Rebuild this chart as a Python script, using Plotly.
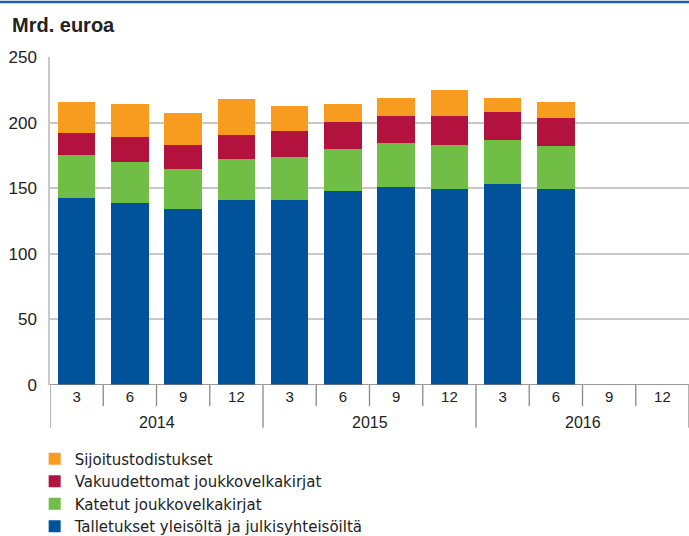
import plotly.graph_objects as go

months = ["3", "6", "9", "12", "3", "6", "9", "12", "3", "6", "9", "12"]
years = ["2014", "2015", "2016"]
talletukset = [142.8, 139.0, 133.9, 141.0, 141.0, 147.9, 150.9, 149.1, 153.2, 149.1, None, None]
katetut = [32.2, 30.7, 31.0, 31.0, 33.0, 32.2, 33.3, 34.1, 33.5, 33.3, None, None]
vakuudettomat = [16.8, 19.3, 17.8, 18.8, 19.8, 20.4, 20.6, 21.6, 21.1, 21.3, None, None]
sijoitus = [24.2, 24.9, 24.8, 27.2, 19.1, 13.4, 14.2, 20.3, 11.0, 12.3, None, None]
y_ticks = [0, 50, 100, 150, 200, 250]

names = ["Talletukset yleisöltä ja julkisyhteisöiltä", "Katetut joukkovelkakirjat",
         "Vakuudettomat joukkovelkakirjat", "Sijoitustodistukset"]
colors = ["#00529b", "#70be45", "#b3123f", "#f79c1f"]
series = [talletukset, katetut, vakuudettomat, sijoitus]

x = list(range(len(months)))
fig = go.Figure()
for nm, col, vals in zip(names, colors, series):
    fig.add_trace(go.Bar(x=x, y=vals, name=nm, marker=dict(color=col, line=dict(width=0))))

FONT = "Liberation Sans, Arial, sans-serif"
fig.update_layout(
    width=689, height=536,
    margin=dict(l=50, r=0, t=57, b=151, autoexpand=False),
    barmode="stack", bargap=0.30,
    plot_bgcolor="white", paper_bgcolor="white",
    font=dict(family=FONT, color="#222"),
    showlegend=True,
    legend=dict(x=-0.024, y=-0.175, xanchor="left", yanchor="top", traceorder="reversed",
                font=dict(size=15, family="DejaVu Sans, sans-serif", color="#222"), itemwidth=30,
                tracegroupgap=0, bgcolor="rgba(0,0,0,0)"),
    xaxis=dict(range=[-0.5, len(months) - 0.5], tickvals=x, ticktext=months, ticks="",
               showgrid=False, zeroline=False, showline=False, automargin=False,
               tickfont=dict(size=15, family=FONT, color="#222"), ticklabelstandoff=1),
    yaxis=dict(range=[0, 250], tickvals=y_ticks, showgrid=True, gridcolor="#c8c8c8", gridwidth=1.5,
               zeroline=False, showline=True, linecolor="#c8c8c8", linewidth=1.5, automargin=False,
               tickfont=dict(size=17, family=FONT, color="#222"), ticks="", ticklabelstandoff=8),
)

shapes = []
# baseline
shapes.append(dict(type="line", xref="paper", yref="y", x0=0, x1=1, y0=0, y1=0,
                   line=dict(color="#7a7a7a", width=1.5)))
# month separators and year separators
for i in range(len(months) + 1):
    is_year = (i % 4 == 0)
    shapes.append(dict(type="line", xref="x", yref="paper", x0=i - 0.5, x1=i - 0.5,
                       y0=0, y1=-0.13 if is_year else -0.064,
                       line=dict(color="#8a8a8a", width=1.3)))
# top blue rule
shapes.append(dict(type="line", xref="paper", yref="paper", x0=-0.08, x1=1.0, y0=1.1675, y1=1.1675,
                   line=dict(color="#1f5fa8", width=2.5)))
fig.update_layout(shapes=shapes)

annotations = []
for k, yr in enumerate(years):
    annotations.append(dict(text=yr, xref="x", yref="paper", x=4 * k + 1.5, y=-0.114,
                            xanchor="center", yanchor="middle", showarrow=False,
                            font=dict(size=16, family=FONT, color="#222")))
annotations.append(dict(text="<b>Mrd. euroa</b>", xref="paper", yref="paper", x=-0.062, y=1.098,
                        xanchor="left", yanchor="middle", showarrow=False,
                        font=dict(size=20, family=FONT, color="#222")))
fig.update_layout(annotations=annotations)

fig.write_html("out.html", config={"displayModeBar": False},
               post_script="document.body.style.margin='0';document.body.style.overflow='hidden';")
